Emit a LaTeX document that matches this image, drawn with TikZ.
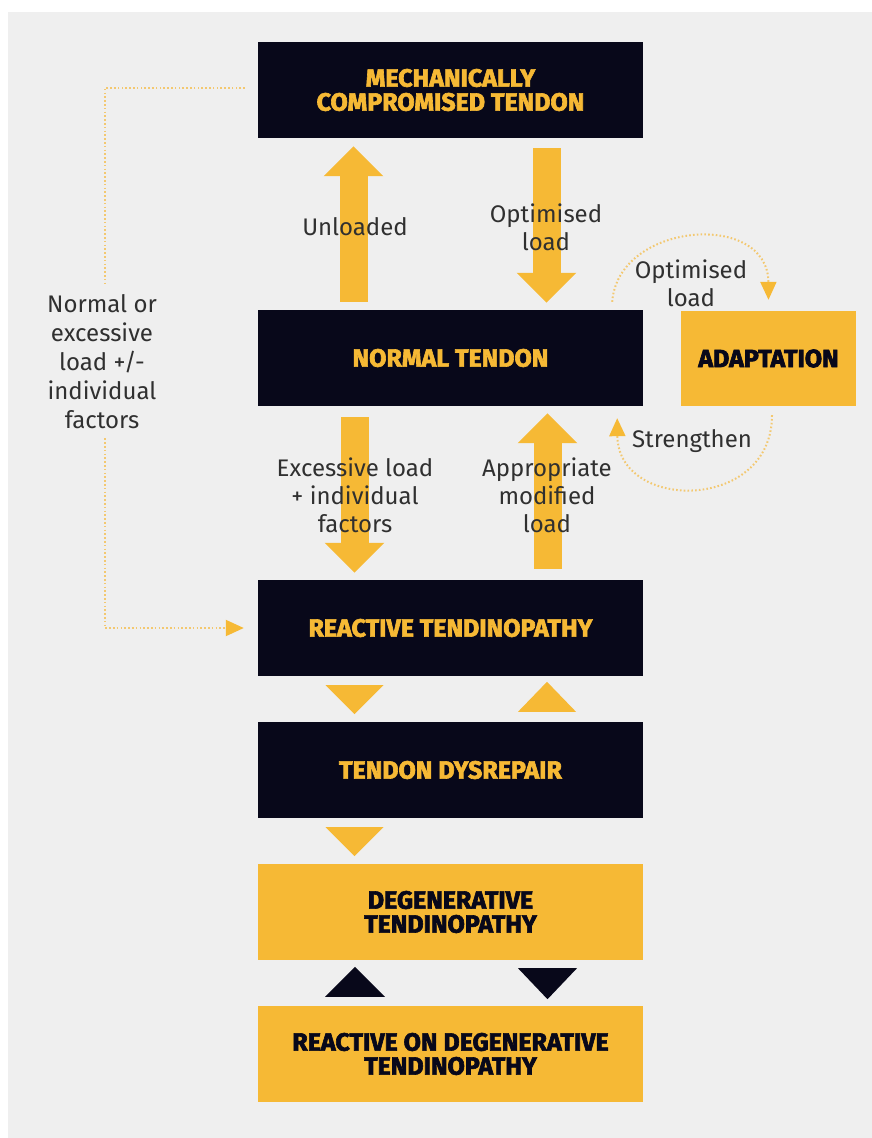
\documentclass[tikz,border=0pt]{standalone}
\usepackage{fontspec}
\setmainfont{Fira Sans}[BoldFeatures={FakeBold=2.5}]
\usetikzlibrary{arrows.meta,calc}
\definecolor{navy}{HTML}{08081A}
\definecolor{gold}{HTML}{F6B935}
\definecolor{bgc}{HTML}{EFEFEF}
\definecolor{txt}{HTML}{303030}
\definecolor{dotc}{HTML}{F3C870}
\tikzset{
  boxbase/.style={minimum width=385pt, minimum height=96pt, inner sep=0pt, align=center,
    font=\fontsize{25}{24}\selectfont\bfseries},
  darkbox/.style={boxbase, fill=navy, text=gold},
  goldbox/.style={boxbase, fill=gold, text=navy},
  lbl/.style={text=txt, align=center, font=\fontsize{24}{28}\selectfont, inner sep=1pt},
  bigarrow/.style={draw=gold, line width=28pt, -{Triangle[width=58pt,length=30pt,color=gold]}},
  dotline/.style={draw=dotc, line width=2pt, dash pattern=on 1.6pt off 2.2pt},
  dottip/.style={-{Triangle[width=16pt,length=18pt,color=gold]}}
}
\begin{document}
\begin{tikzpicture}[x=1pt,y=-1pt]
\useasboundingbox (0,0) rectangle (872,1138);
\fill[bgc] (8,12) rectangle (872,1138);

% boxes
\node[darkbox] (mct) at (450.5,90) {MECHANICALLY\\COMPROMISED TENDON};
\node[darkbox] (normal) at (450.5,358) {NORMAL TENDON};
\node[goldbox, minimum width=175pt, minimum height=95pt] (adapt) at (768.5,358.5) {ADAPTATION};
\node[darkbox] (reactive) at (450.5,628) {REACTIVE TENDINOPATHY};
\node[darkbox] (dys) at (450.5,770) {TENDON DYSREPAIR};
\node[goldbox] (degen) at (450.5,912) {DEGENERATIVE\\TENDINOPATHY};
\node[goldbox] (rod) at (450.5,1054) {REACTIVE ON DEGENERATIVE\\TENDINOPATHY};

% big block arrows
\draw[bigarrow] ($(normal.north)+(-97,-8)$) -- ($(mct.south)+(-97,8)$);
\draw[bigarrow] ($(mct.south)+(96,10)$) -- ($(normal.north)+(96,-7)$);
\draw[bigarrow] ($(normal.south)+(-96,11)$) -- ($(reactive.north)+(-96,-7)$);
\draw[bigarrow] ($(reactive.north)+(97,-11)$) -- ($(normal.south)+(97,7)$);

% small triangles
\fill[gold] ($(reactive.south)+(-125,9)$) -- ++(58,0) -- ++(-29,29) -- cycle;
\fill[gold] ($(dys.north)+(67.5,-10)$) -- ++(58,0) -- ++(-29,-30) -- cycle;
\fill[gold] ($(dys.south)+(-125,9)$) -- ++(58,0) -- ++(-29,29) -- cycle;
\fill[navy] ($(rod.north)+(-125.5,-9)$) -- ++(60,0) -- ++(-30,-30) -- cycle;
\fill[navy] ($(degen.south)+(67.5,8)$) -- ++(59,0) -- ++(-29.5,31) -- cycle;

% labels on arrows
\node[lbl] (lunl) at (355,227) {Unloaded};
\node[lbl] (lopt) at (546,227) {Optimised\\load};
\node[lbl] (lexc) at (355,495) {Excessive load\\+ individual\\factors};
\node[lbl] (lapp) at (547,495) {Appropriate\\modified\\load};
\node[lbl] (lopt2) at (691,283) {Optimised\\load};
\node[lbl] (lstr) at (692,441) {Strengthen};
\node[lbl, font=\fontsize{24}{29}\selectfont] (lnorm) at (102,362) {Normal or\\excessive\\load +/-\\individual\\factors};

% dotted connectors
\draw[dotline] ($(mct.west)+(-13,-2)$) -| ($(lnorm.north)+(3,-10)$);
\draw[dotline, dottip] ($(lnorm.south)+(3,8)$) |- ($(reactive.west)+(-14,0)$);
\draw[dotline, dottip] ($(normal.north east)+(-31,-8)$) .. controls (618,222) and (768,210) .. ($(adapt.north)+(0,-11)$);
\draw[dotline, dottip] ($(adapt.south)+(3.5,9)$) .. controls (772,512) and (618,512) .. ($(normal.south east)+(-26,12)$);
\end{tikzpicture}
\end{document}
